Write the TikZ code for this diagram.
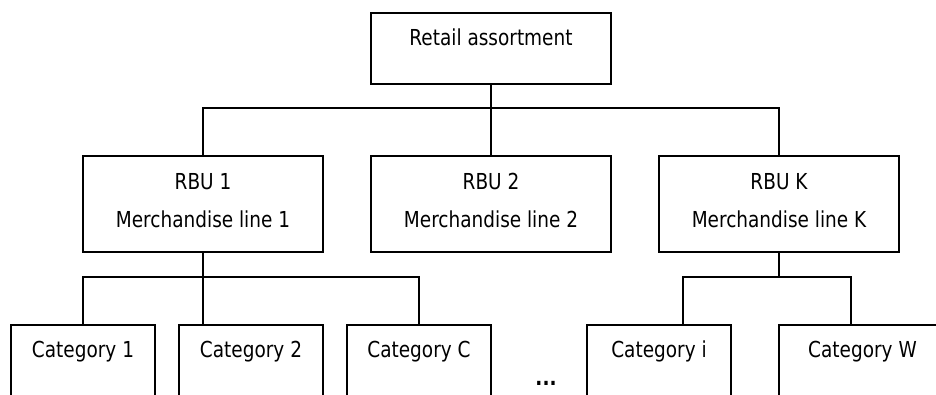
\documentclass[tikz,border=0pt]{standalone}
\usepackage{fontspec}
\setmainfont{DejaVu Sans}[FakeStretch=0.84]
\begin{document}
\begin{tikzpicture}[x=1pt,y=-1pt,
  line width=1.5pt,
  box/.style={draw=black, line width=1.5pt, inner sep=0pt, outer sep=0pt, anchor=north west, minimum height=#1},
  box/.default=96pt,
  lbl/.style={anchor=base, inner sep=0pt, font=\fontsize{22}{26}\selectfont},
  conn/.style={draw=black, line width=1.5pt}]
\path[use as bounding box] (0,0) rectangle (936,394);
\clip (0,0) rectangle (936,394);
% top
\node[box=71pt, minimum width=240pt] (top) at (371,13) {};
\node[lbl] (ttop) at (491,45) {Retail assortment};
% RBU level
\node[box, minimum width=240pt] (rbu1) at (83,156) {};
\node[box, minimum width=240pt] (rbu2) at (371,156) {};
\node[box, minimum width=240pt] (rbuK) at (659,156) {};
\node[lbl] (r1a) at (203,189) {RBU 1};
\node[lbl] (r1b) at (203,227) {Merchandise line 1};
\node[lbl] (r2a) at (491,189) {RBU 2};
\node[lbl] (r2b) at (491,227) {Merchandise line 2};
\node[lbl] (rKa) at (779,189) {RBU K};
\node[lbl] (rKb) at (779,227) {Merchandise line K};
% categories
\node[box=110pt, minimum width=144pt] (c1) at (11,325) {};
\node[box=110pt, minimum width=144pt] (c2) at (179,325) {};
\node[box=110pt, minimum width=144pt] (cC) at (347,325) {};
\node[box=110pt, minimum width=144pt] (ci) at (587,325) {};
\node[box=110pt, minimum width=167pt] (cW) at (779,325) {};
\node[lbl] (tc1) at (83,357) {Category 1};
\node[lbl] (tc2) at (251,357) {Category 2};
\node[lbl] (tcC) at (419,357) {Category C};
\node[lbl] (tci) at (659,357) {Category i};
\node[lbl] (tcW) at (862.5,357) {Category W};
\node[lbl] (dots) at (546,385) {\textbf{...}};
% connectors level 1
\coordinate (j1) at (491,108);
\draw[conn] (top.south) -- (top.south |- j1);
\draw[conn] (rbu1.north) |- (rbuK.north |- j1) -- (rbuK.north);
\draw[conn] (rbu2.north) -- (rbu2.north |- j1);
% connectors level 2 (RBU 1)
\coordinate (j2) at (203,277);
\draw[conn] (rbu1.south) -- (c2.north -| rbu1.south);
\draw[conn] (c1.north) |- (cC.north |- j2) -- (cC.north);
% connectors level 2 (RBU K)
\coordinate (jK) at (779,277);
\coordinate (ciT) at (683,325);
\coordinate (cWT) at (851,325);
\draw[conn] (rbuK.south) -- (rbuK.south |- jK);
\draw[conn] (ciT) |- (cWT |- jK) -- (cWT);
\end{tikzpicture}
\end{document}
